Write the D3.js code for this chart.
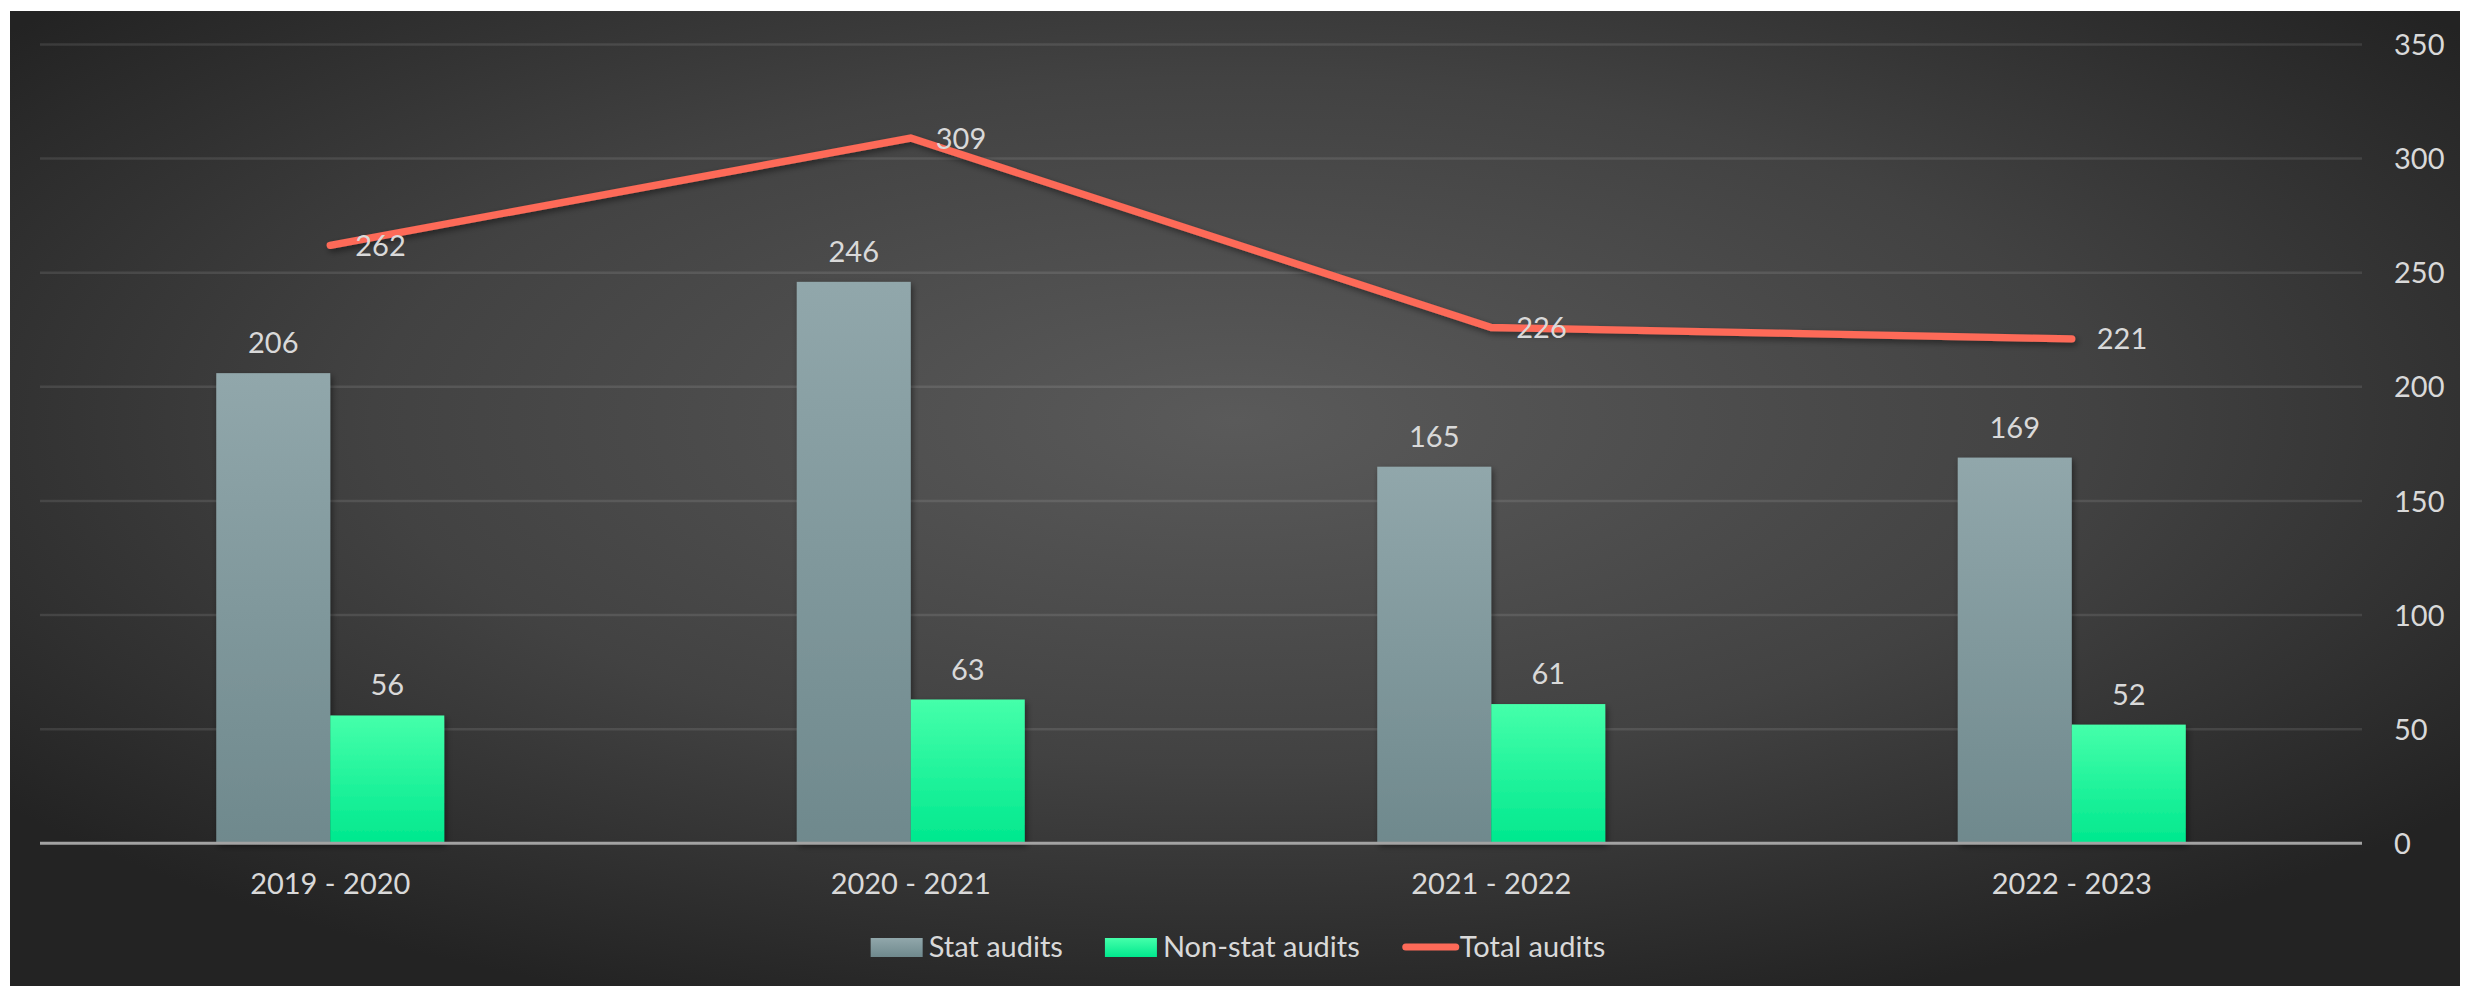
<!DOCTYPE html>
<html>
<head>
<meta charset="utf-8">
<script src="https://cdn.jsdelivr.net/npm/d3@7/dist/d3.min.js"></script>
<style>
  html, body { margin: 0; padding: 0; background: #ffffff; }
  svg { display: block; }
  text { font-family: Lato, "Open Sans", sans-serif; fill: #d9d9d9; }
</style>
</head>
<body>
<svg id="chart" width="2472" height="986"></svg>
<script>
const categories = ["2019 - 2020", "2020 - 2021", "2021 - 2022", "2022 - 2023"];
const statAudits = [206, 246, 165, 169];
const nonStatAudits = [56, 63, 61, 52];
const totalAudits = [262, 309, 226, 221];
const yTicks = [0, 50, 100, 150, 200, 250, 300, 350];
const seriesNames = ["Stat audits", "Non-stat audits", "Total audits"];

const W = 2472, H = 986;
const svg = d3.select("#chart");
const defs = svg.append("defs");

// background gradient
const bg = defs.append("radialGradient").attr("id", "bgGrad")
  .attr("cx", 0.5).attr("cy", 0.42).attr("r", 0.64);
bg.append("stop").attr("offset", "0%").attr("stop-color", "#5a5a5a");
bg.append("stop").attr("offset", "55%").attr("stop-color", "#424242");
bg.append("stop").attr("offset", "100%").attr("stop-color", "#232323");

const gStat = defs.append("linearGradient").attr("id", "gStat").attr("x1", 0).attr("y1", 0).attr("x2", 0).attr("y2", 1);
gStat.append("stop").attr("offset", "0%").attr("stop-color", "#91a7ab");
gStat.append("stop").attr("offset", "100%").attr("stop-color", "#6f898d");
const gNon = defs.append("linearGradient").attr("id", "gNon").attr("x1", 0).attr("y1", 0).attr("x2", 0).attr("y2", 1);
gNon.append("stop").attr("offset", "0%").attr("stop-color", "#45ffaa");
gNon.append("stop").attr("offset", "100%").attr("stop-color", "#00e88e");

const sh = defs.append("filter").attr("id", "shadow").attr("x", "-20%").attr("y", "-20%").attr("width", "140%").attr("height", "140%");
sh.append("feDropShadow").attr("dx", 2).attr("dy", 3).attr("stdDeviation", 3)
  .attr("flood-color", "#000").attr("flood-opacity", 0.45);

svg.append("rect").attr("x", 10).attr("y", 11).attr("width", 2450).attr("height", H - 11)
  .attr("fill", "url(#bgGrad)");

const x0 = 40, x1 = 2362;
const x = d3.scaleBand().domain(categories).range([x0, x1]).padding(0);
const y = d3.scaleLinear().domain([0, 350]).range([843.3, 44.5]);
const barW = 114;
const xs = d3.scaleBand().domain(["stat", "non"]).range([-barW, barW]).padding(0);
const cx = c => x(c) + x.bandwidth() / 2;

// gridlines
svg.append("g").selectAll("line").data(yTicks.filter(t => t > 0)).join("line")
  .attr("x1", x0).attr("x2", x1)
  .attr("y1", d => y(d)).attr("y2", d => y(d))
  .attr("stroke", "rgba(255,255,255,0.1)").attr("stroke-width", 2.5);

// right axis labels
const yAxis = d3.axisRight(y).tickValues(yTicks).tickSize(0).tickPadding(0);
const ya = svg.append("g").attr("transform", `translate(2394,0)`).call(yAxis);
ya.select(".domain").remove();
ya.selectAll("text").attr("x", 0).attr("dy", "0.35em").style("font-size", "29px")
  .style("fill", "#d9d9d9").style("font-family", "Lato, 'Open Sans', sans-serif").attr("text-anchor", "start");

// bars
const barData = [];
categories.forEach((c, i) => {
  barData.push({ c, key: "stat", v: statAudits[i] });
  barData.push({ c, key: "non", v: nonStatAudits[i] });
});
svg.append("g").attr("filter", "url(#shadow)").selectAll("rect").data(barData).join("rect")
  .attr("x", d => cx(d.c) + xs(d.key))
  .attr("width", xs.bandwidth())
  .attr("y", d => y(d.v))
  .attr("height", d => y(0) - y(d.v))
  .attr("fill", d => d.key === "stat" ? "url(#gStat)" : "url(#gNon)");

// x axis line
const xAxis = d3.axisBottom(x).tickSize(0).tickPadding(0);
const xa = svg.append("g").attr("transform", `translate(0,${y(0)})`).call(xAxis);
xa.select(".domain").attr("stroke", "#a3a3a3").attr("stroke-width", 3).attr("d", `M${x0},0H${x1}`);
xa.selectAll("text").attr("y", 51).attr("dy", 0).style("font-size", "29px")
  .style("fill", "#d9d9d9").style("font-family", "Lato, 'Open Sans', sans-serif");

// bar labels
svg.append("g").selectAll("text").data(barData).join("text")
  .attr("x", d => cx(d.c) + xs(d.key) + xs.bandwidth() / 2)
  .attr("y", d => y(d.v) - 20)
  .attr("text-anchor", "middle").style("font-size", "29px")
  .text(d => d.v);

// line
const line = d3.line().x(d => cx(d.c)).y(d => y(d.v)).curve(d3.curveLinear);
const lineData = categories.map((c, i) => ({ c, v: totalAudits[i] }));
svg.append("path").datum(lineData).attr("d", line)
  .attr("fill", "none").attr("stroke", "#fd6a58").attr("stroke-width", 7.3)
  .attr("stroke-linecap", "round").attr("stroke-linejoin", "miter")
  .attr("filter", "url(#shadow)");

svg.append("g").selectAll("text").data(lineData).join("text")
  .attr("x", d => cx(d.c) + 25)
  .attr("y", d => y(d.v) + 10.5)
  .attr("text-anchor", "start").style("font-size", "29px")
  .text(d => d.v);

// legend
const leg = svg.append("g");
const legItems = [
  { name: seriesNames[0], type: "rect", fill: "url(#gStat)" },
  { name: seriesNames[1], type: "rect", fill: "url(#gNon)" },
  { name: seriesNames[2], type: "line", fill: "#fd6a58" }
];
let cursor = 0;
legItems.forEach((it, i) => {
  const g = leg.append("g").attr("transform", `translate(${cursor},0)`);
  if (it.type === "rect") {
    g.append("rect").attr("x", 0).attr("y", 938).attr("width", 52).attr("height", 19).attr("fill", it.fill);
  } else {
    g.append("line").attr("x1", 4).attr("x2", 54).attr("y1", 947).attr("y2", 947)
      .attr("stroke", it.fill).attr("stroke-width", 7).attr("stroke-linecap", "round");
  }
  const t = g.append("text").attr("x", 58).attr("y", 957).style("font-size", "29px").text(it.name);
  const tw = t.node().getComputedTextLength();
  cursor += 58 + tw + 42;
});
const totalW = cursor - 42;
leg.attr("transform", `translate(${1238 - totalW / 2},0)`);
</script>
</body>
</html>
